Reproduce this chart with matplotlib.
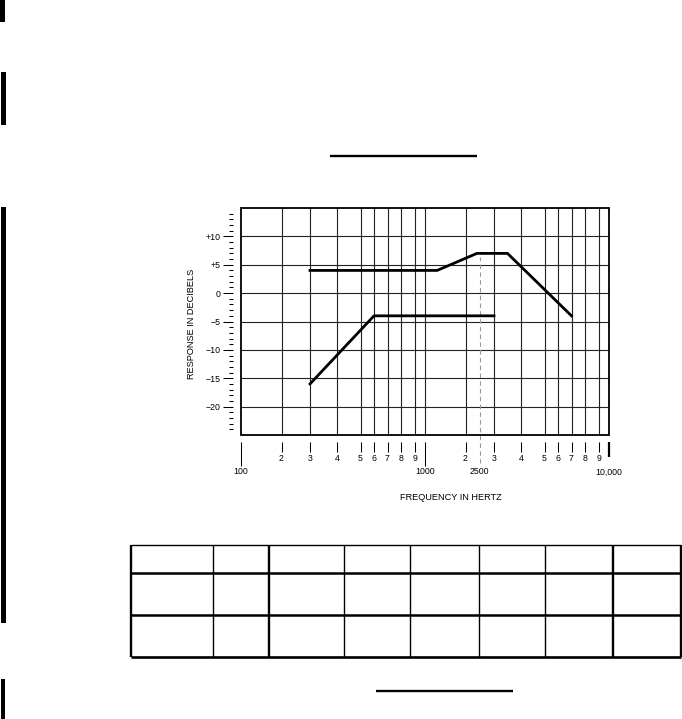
import matplotlib as mpl
import matplotlib.pyplot as plt
import numpy as np
from matplotlib.patches import Rectangle

mpl.rcParams['font.family'] = ['Liberation Sans', 'DejaVu Sans']

# response curves, Hz vs dB
upper_freq = [300, 1300, 2400, 3500, 7000]
upper_db = [4, 4, 7, 7, -4]
lower_freq = [300, 600, 3000]
lower_db = [-16, -4, -4]
marker_freq = 2500

major_freqs = [100, 1000, 2500, 10000]
major_labels = ['100', '1000', '2500', '10,000']
minor_freqs = [m * d for d in (100, 1000) for m in range(2, 10)]
minor_labels = [str(m) for d in (100, 1000) for m in range(2, 10)]

db_ticks = [-20, -15, -10, -5, 0, 5, 10]
db_labels = ['\u221220', '\u221215', '\u221210', '\u22125', '0', '+5', '+10']
db_minor = [v for v in range(-24, 15) if v % 5 != 0]

# the printed chart paper is not a true log scale:
# where 1..10 fall inside one decade
mant = np.arange(1, 11)
mant_pos = np.array([0, 40.5, 69, 96, 119.5, 133, 146.5, 160, 174, 184]) / 184


def fwd(f):
    f = np.clip(np.asarray(f, float), 1e-3, None)
    d = np.floor(np.log10(f) + 1e-9)
    return d + np.interp(f / 10 ** d, mant, mant_pos)


def inv(p):
    p = np.asarray(p, float)
    d = np.floor(p + 1e-9)
    return np.interp(p - d, mant_pos, mant) * 10 ** d


W, H = 682, 719
fig = plt.figure(figsize=(W / 100, H / 100), dpi=100)

# page furniture: margin bars, rules, empty table
page = fig.add_axes([0, 0, 1, 1])
page.set_xlim(0, W)
page.set_ylim(H, 0)
page.axis('off')
for x0, y0, w, h in [(0, 0, 5, 22), (1, 72, 5, 53), (1, 207, 5, 416), (1, 679, 4, 40)]:
    page.add_patch(Rectangle((x0, y0), w, h, color='black', lw=0))
page.hlines([155.7, 690.7], [330, 376], [476.7, 513.3], color='black', lw=1.7)

cols = [131, 213, 268.5, 343.5, 409.5, 478.5, 544.5, 612.5, 681]
col_lw = [1.7, 1.0, 1.7, 1.0, 1.0, 1.0, 1.0, 1.7, 1.7]
rows = [544.5, 572.5, 615, 656.5]
row_lw = [1.0, 1.8, 1.8, 1.9]
page.hlines(rows, cols[0], cols[-1], color='black', linewidths=row_lw)
page.vlines(cols, rows[0], rows[-1], color='black', linewidths=col_lw)

# chart
ax = fig.add_axes([241 / W, 1 - 435 / H, 368 / W, 227 / H])
ax.set_xscale('function', functions=(fwd, inv))
ax.set_xlim(100, 10000)
ax.set_ylim(-25, 15)
ax.patch.set_alpha(0)

for f in minor_freqs + [1000]:
    ax.axvline(f, color='#222222', lw=0.8, zorder=1)
for v in db_ticks:
    ax.axhline(v, color='#222222', lw=0.8, zorder=1)
ax.axvline(marker_freq, ymin=-0.125, ymax=0.785, clip_on=False,
           color='0.6', lw=0.8, ls=(0, (4, 3)), zorder=1)

ax.plot(upper_freq, upper_db, color='black', lw=2.0, zorder=3)
ax.plot(lower_freq, lower_db, color='black', lw=2.0, zorder=3)

ax.add_patch(Rectangle((0, 0), 1, 1, transform=ax.transAxes, fill=False,
                       ec='black', lw=1.3, zorder=4, clip_on=False))
for s in ax.spines.values():
    s.set_visible(False)
ax.spines['bottom'].set_position(('outward', 5))
ax.spines['left'].set_position(('outward', 5.8))

ax.set_xticks(major_freqs, major_labels)
ax.set_xticks(minor_freqs, minor_labels, minor=True)
ax.set_yticks(db_ticks, db_labels)
ax.set_yticks(db_minor, minor=True)

ax.tick_params(axis='x', which='major', length=17.5, width=0.75, pad=0.8, labelsize=6.3)
ax.tick_params(axis='x', which='minor', length=7.2, width=0.75, pad=1.6, labelsize=6.3)
ax.tick_params(axis='y', which='major', length=7.2, width=0.75, pad=1.5, labelsize=6.3)
ax.tick_params(axis='y', which='minor', length=3, width=0.75)

ticks = ax.xaxis.get_major_ticks()
ticks[2].tick1line.set_visible(False)
ticks[3].tick1line.set_markersize(10.8)
ticks[3].tick1line.set_markeredgewidth(1.6)

fig.text(451 / W, 1 - 498 / H, 'FREQUENCY IN HERTZ', ha='center', va='center', fontsize=6.6)
fig.text(191.7 / W, 1 - 324 / H, 'RESPONSE IN DECIBELS', ha='center', va='center',
         rotation=90, fontsize=6.6)

fig.savefig('out.png', dpi=100)
